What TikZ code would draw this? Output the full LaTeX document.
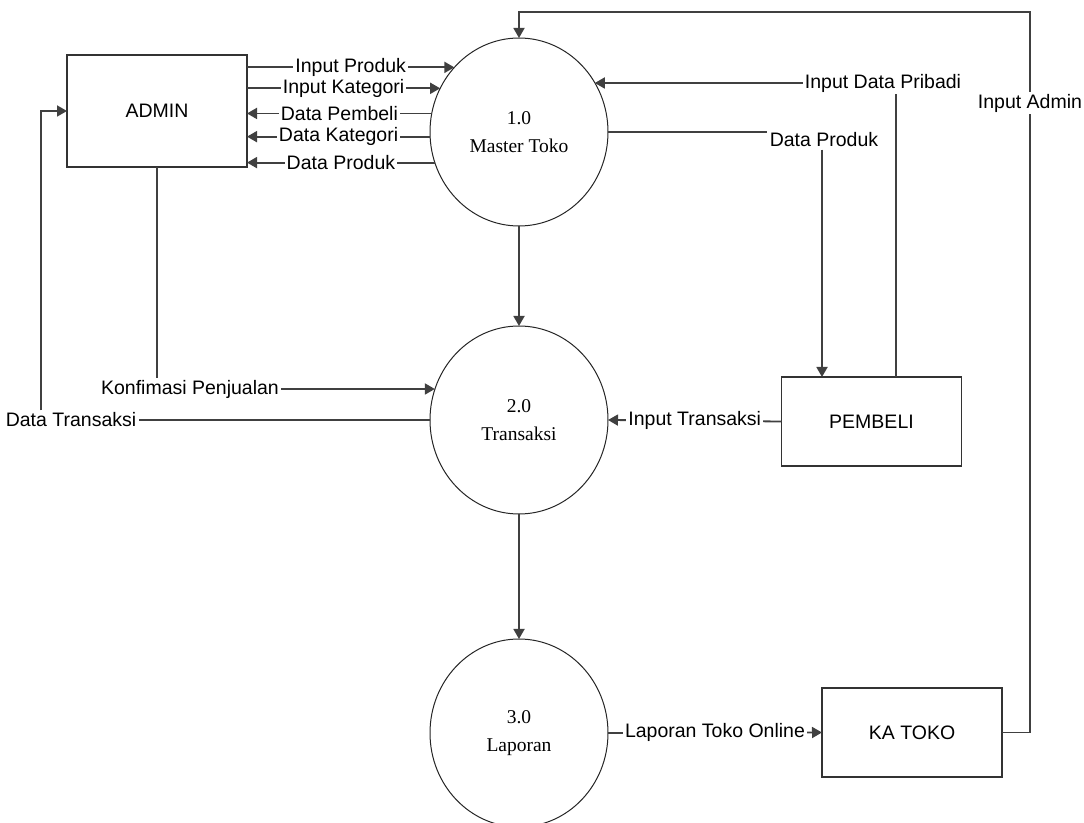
\documentclass[tikz,border=0pt]{standalone}
\usepackage{fontspec}
\setmainfont{Liberation Sans}
\newfontfamily\procfont{Liberation Serif}
\usetikzlibrary{arrows.meta, shapes.geometric}

\begin{document}
\begin{tikzpicture}[x=0.5pt, y=-0.5pt,
      font=\fontsize{9.75}{11}\selectfont,
      entity/.style={draw=black!80, line width=0.9pt, minimum width=90pt, minimum height=44.5pt, inner sep=0pt, outer sep=0pt},
      proc/.style={ellipse, draw=black!85, line width=0.5pt, minimum width=89pt, minimum height=94pt,
        inner sep=0pt, outer sep=0pt, align=center, font=\procfont\fontsize{9.75}{14}\selectfont},
      flow/.style={draw=black!75, line width=0.9pt, -{Triangle[length=5pt, width=5.5pt]}},
      line/.style={draw=black!75, line width=0.9pt},
      lbl/.style={fill=white, inner sep=1pt}]
    \useasboundingbox (0,0) rectangle (1084,823);

    % terminators and processes
    \node[entity, minimum height=56pt] (admin) at (157,111) {ADMIN};
    \node[entity] (pembeli) at (871.5,421.5) {PEMBELI};
    \node[entity] (katoko) at (912,732.5) {KA TOKO};
    \node[proc] (m1) at (519,132) {1.0\\Master Toko};
    \node[proc] (m2) at (519,420) {2.0\\Transaksi};
    \node[proc] (m3) at (519,733) {3.0\\Laporan};

    % admin <-> master toko
    \draw[flow] (admin.east |- m1.135) -- node[lbl] {Input Produk} (m1.135);
    \draw[flow] (admin.east |- m1.151) -- node[lbl] {Input Kategori} (m1.151);
    \draw[flow] (m1.168) -- node[lbl] {Data Pembeli} (admin.east |- m1.168);
    \draw[flow] (m1.183) -- node[lbl] {Data Kategori} (admin.east |- m1.183);
    \draw[flow] (m1.200) -- node[lbl] {Data Produk} (admin.east |- m1.200);

    % pembeli
    \node[lbl] (dprod) at (824,140) {Data Produk};
    \coordinate (dprodx) at (822,0);
    \draw[line] (m1.east) -- (m1.east -| dprod.west);
    \draw[flow] (dprodx |- dprod.south) -- (dprodx |- pembeli.north);
    \node[lbl] (idp) at (883,83) {Input Data Pribadi};
    \coordinate (pribx) at (896,0);
    \draw[line] (pribx |- pembeli.north) -- (pribx |- idp.south);
    \draw[flow] (idp.west) -- (idp.west -| m1.33);
    \draw[flow] (pembeli.west) -- node[lbl] {Input Transaksi} (m2.east);

    % ka toko
    \node[lbl] (iadm) at (1030,103) {Input Admin};
    \coordinate (adminy) at (1030,12);
    \draw[line] (katoko.east) -| (iadm.south);
    \draw[flow] (iadm.north) |- (adminy) -| (m1.north);
    \draw[flow] (m3.east) -- node[lbl] {Laporan Toko Online} (katoko.west);

    % process chain
    \draw[flow] (m1.south) -- (m2.north);
    \draw[flow] (m2.south) -- (m3.north);

    % transaksi <-> admin
    \node[lbl] (konf) at (190,389) {Konfimasi Penjualan};
    \draw[line] (admin.south) -- (admin.south |- konf.north);
    \draw[flow] (konf.east) -- (konf.east -| m2.160);
    \node[lbl] (dtrans) at (71,420) {Data Transaksi};
    \coordinate (tbend) at (41,111);
    \draw[line] (m2.west) -- (dtrans.east);
    \draw[flow] (tbend |- dtrans.north) -- (tbend) -- (admin.west);
\end{tikzpicture}
\end{document}
